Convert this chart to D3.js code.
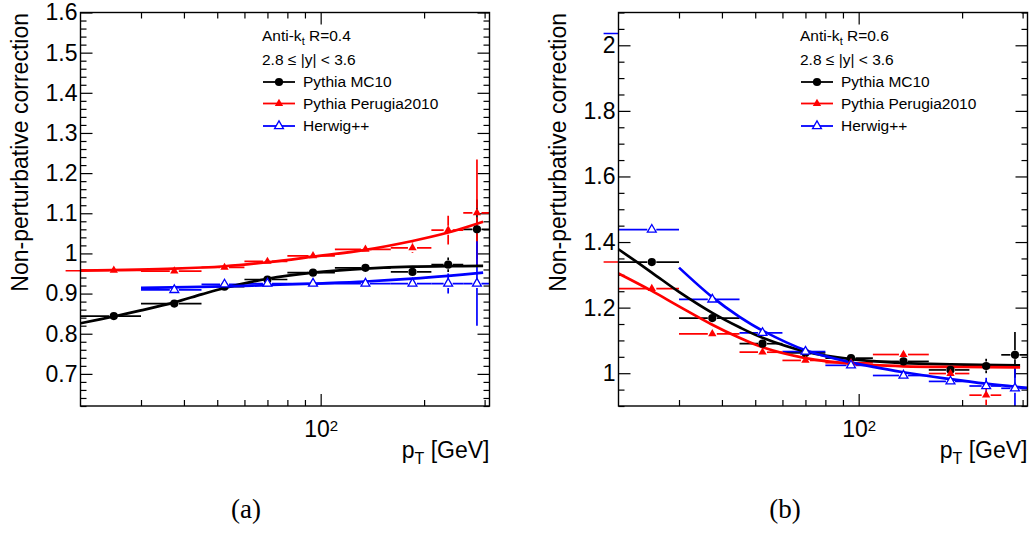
<!DOCTYPE html>
<html><head><meta charset="utf-8">
<script src="https://cdn.jsdelivr.net/npm/d3@7"></script>
<style>
body{margin:0;background:#fff;}
svg{display:block;font-family:"Liberation Sans",Arial,Helvetica,sans-serif;}
</style>
</head><body>
<svg id="c" width="1033" height="533"></svg>
<script>
// ---------------- data ----------------
const ptEdges   = [20,30,45,60,80,110,160,210,260,310];
const ptCenters = [25,37.5,52.5,70,95,135,185,235,285];
const underflowBin = [18.1,20];

// (a) anti-kt R=0.4
const a_mc10        = [0.844,0.875,0.917,0.935,0.952,0.964,0.954,0.972,1.060];
const a_mc10_err    = [0.003,0.003,0.004,0.005,0.006,0.008,0.010,0.018,0.074];
const a_perugia     = [0.958,0.956,0.965,0.980,0.994,1.010,1.014,1.058,1.101];
const a_perugia_err = [0.004,0.005,0.007,0.010,0.010,0.008,0.013,0.036,0.133];
const a_herwig      = [null,0.909,0.923,0.925,0.925,0.925,0.925,0.925,0.925];
const a_herwig_err  = [0,0.004,0.006,0.005,0.005,0.005,0.006,0.025,0.105];
const a_fit_mc10    = [[20,0.826],[25,0.843],[30,0.858],[37.5,0.878],[45,0.898],[52.5,0.914],[70,0.937],[95,0.952],[135,0.962],[185,0.967],[235,0.968],[297,0.969]];
const a_fit_perugia = [[20,0.957],[37.5,0.962],[52.5,0.968],[70,0.978],[95,0.992],[135,1.009],[185,1.031],[235,1.052],[297,1.079]];
const a_fit_herwig  = [[30,0.914],[52.5,0.918],[70,0.921],[95,0.925],[135,0.930],[185,0.937],[235,0.944],[297,0.952]];
const a_under       = {perugia:0.957};

// (b) anti-kt R=0.6
const b_mc10        = [1.339,1.168,1.090,1.062,1.046,1.036,1.010,1.022,1.056];
const b_mc10_err    = [0.004,0.005,0.006,0.006,0.007,0.008,0.010,0.022,0.070];
const b_perugia     = [1.258,1.120,1.064,1.039,1.032,1.057,0.999,0.933,null];
const b_perugia_err = [0.004,0.005,0.006,0.006,0.007,0.010,0.012,0.030,0];
const b_herwig      = [1.438,1.225,1.123,1.066,1.024,0.993,0.975,0.961,0.954];
const b_herwig_err  = [0.004,0.006,0.007,0.008,0.008,0.010,0.012,0.025,0.060];
const b_fit_mc10    = [[20,1.378],[25,1.307],[30,1.248],[37.5,1.184],[45,1.140],[52.5,1.108],[70,1.066],[95,1.043],[135,1.031],[185,1.027],[295,1.024]];
const b_fit_perugia = [[20,1.304],[25,1.251],[30,1.204],[37.5,1.148],[45,1.108],[52.5,1.079],[70,1.046],[95,1.029],[135,1.021],[200,1.019],[295,1.018]];
const b_fit_herwig  = [[30,1.322],[37.5,1.232],[45,1.172],[52.5,1.130],[70,1.070],[95,1.033],[135,1.003],[185,0.982],[235,0.968],[310,0.955]];
const b_under       = {perugia:1.339, herwig:2.036};

const yMajorA = [0.7,0.8,0.9,1.0,1.1,1.2,1.3,1.4,1.5,1.6];
const yMajorB = [1.0,1.2,1.4,1.6,1.8,2.0];
const xMajor  = [100];
const xMinor  = [30,40,50,60,70,80,90,200,300];
const legendLabels = ["Pythia MC10","Pythia Perugia2010","Herwig++"];
const captions = ["(a)","(b)"];

// ---------------- drawing ----------------
const svg = d3.select("#c");
const COL = {mc10:"#000000", perugia:"#ff0000", herwig:"#0000ff"};

function marker(sel, kind, color){
  if(kind==="circle"){
    sel.append("circle").attr("r",4.1).attr("fill",color);
  } else if(kind==="tri"){
    sel.append("path").attr("d",d3.symbol(d3.symbolTriangle,30)()).attr("fill",color);
  } else {
    sel.append("path").attr("d",d3.symbol(d3.symbolTriangle,34)()).attr("fill","#fff")
      .attr("stroke",color).attr("stroke-width",1.3);
  }
}

function drawPanel(p, idx){
  const g = svg.append("g").attr("transform",`translate(${p.ox},0)`);
  const X0=80.5, X1=489.5, Y0=12.5, Y1=406;
  const x = d3.scaleLog().domain([20,310]).range([X0,X1]);
  const y = d3.scaleLinear().domain(p.yDomain).range([Y1,Y0]);
  const clipId = "clip"+idx;
  g.append("clipPath").attr("id",clipId).append("rect")
    .attr("x",X0-16).attr("y",Y0).attr("width",X1-X0+16).attr("height",Y1-Y0);

  const styleAxis = a => { a.select(".domain").remove(); a.selectAll("line").attr("stroke","#000").attr("stroke-width",1.2); };
  const yMinor = d3.range(Math.round(p.yDomain[0]/p.yMinorStep), Math.round(p.yDomain[1]/p.yMinorStep)+1)
                   .map(k=>+(k*p.yMinorStep).toFixed(3)).filter(v=>!p.yMajor.some(m=>Math.abs(m-v)<1e-6));
  const bx = g.append("g").attr("transform",`translate(0,${Y1})`)
    .call(d3.axisBottom(x).tickValues(xMajor).tickSize(-12).tickPadding(15).tickFormat(()=>"10"));
  bx.selectAll("text").attr("font-size",23).attr("fill","#000").attr("font-family","Liberation Sans, Arial, sans-serif")
    .append("tspan").attr("dy","-0.45em").attr("font-size",15).text("2");
  styleAxis(bx);
  styleAxis(g.append("g").attr("transform",`translate(0,${Y1})`).call(d3.axisBottom(x).tickValues(xMinor).tickSize(-6).tickFormat("")));
  styleAxis(g.append("g").attr("transform",`translate(0,${Y0})`).call(d3.axisTop(x).tickValues(xMajor).tickSize(-12).tickFormat("")));
  styleAxis(g.append("g").attr("transform",`translate(0,${Y0})`).call(d3.axisTop(x).tickValues(xMinor).tickSize(-6).tickFormat("")));
  const ly = g.append("g").attr("transform",`translate(${X0},0)`)
    .call(d3.axisLeft(y).tickValues(p.yMajor).tickSize(-12).tickPadding(3).tickFormat(d=>String(+d.toFixed(2))));
  ly.selectAll("text").attr("font-size",23).attr("fill","#000").attr("font-family","Liberation Sans, Arial, sans-serif");
  styleAxis(ly);
  styleAxis(g.append("g").attr("transform",`translate(${X0},0)`).call(d3.axisLeft(y).tickValues(yMinor).tickSize(-6).tickFormat("")));
  styleAxis(g.append("g").attr("transform",`translate(${X1},0)`).call(d3.axisRight(y).tickValues(p.yMajor).tickSize(-12).tickFormat("")));
  styleAxis(g.append("g").attr("transform",`translate(${X1},0)`).call(d3.axisRight(y).tickValues(yMinor).tickSize(-6).tickFormat("")));

  const dl = g.append("g").attr("clip-path",`url(#${clipId})`);
  const gap = 4.5;
  Object.entries(p.under).forEach(([k,v])=>{
    dl.append("line").attr("x1",x(underflowBin[0])).attr("x2",x(underflowBin[1]))
      .attr("y1",y(v)).attr("y2",y(v)).attr("stroke",COL[k]).attr("stroke-width",1.6);
  });
  p.series.forEach(s=>{
    s.vals.forEach((v,i)=>{
      if(v==null) return;
      const cx=x(ptCenters[i]), cy=y(v), xl=x(ptEdges[i]), xr=x(ptEdges[i+1]);
      const eg = dl.append("g").attr("stroke",s.color).attr("stroke-width",1.7);
      eg.append("line").attr("x1",xl).attr("x2",cx-gap).attr("y1",cy).attr("y2",cy);
      eg.append("line").attr("x1",cx+gap).attr("x2",xr).attr("y1",cy).attr("y2",cy);
      const et=y(v+s.errs[i]), eb=y(v-s.errs[i]);
      if(cy-et>gap) eg.append("line").attr("x1",cx).attr("x2",cx).attr("y1",et).attr("y2",cy-gap);
      if(eb-cy>gap) eg.append("line").attr("x1",cx).attr("x2",cx).attr("y1",cy+gap).attr("y2",eb);
    });
  });
  const line = d3.line().x(d=>x(d[0])).y(d=>y(d[1])).curve(d3.curveCatmullRom.alpha(0.5));
  p.series.forEach(s=>{
    dl.append("path").attr("d",line(s.fit)).attr("fill","none").attr("stroke",s.color).attr("stroke-width",2.7);
  });
  p.series.forEach(s=>{
    s.vals.forEach((v,i)=>{
      if(v==null) return;
      const m = dl.append("g").attr("transform",`translate(${x(ptCenters[i])},${y(v)})`);
      marker(m,s.marker,s.color);
    });
  });
  g.append("rect").attr("x",X0).attr("y",Y0).attr("width",X1-X0).attr("height",Y1-Y0)
    .attr("fill","none").attr("stroke","#000").attr("stroke-width",1.4);

  g.append("text").attr("transform",`translate(28,13) rotate(-90)`).attr("text-anchor","end")
    .attr("font-size",23).text("Non-perturbative correction");
  const xt = g.append("text").attr("x",X1).attr("y",458).attr("text-anchor","end").attr("font-size",23);
  xt.append("tspan").text("p");
  xt.append("tspan").attr("dy",6).attr("font-size",16).text("T");
  xt.append("tspan").attr("dy",-6).text(" [GeV]");

  const lt = g.append("text").attr("x",262).attr("y",41).attr("font-size",15.5);
  lt.append("tspan").text("Anti-k");
  lt.append("tspan").attr("dy",4).attr("font-size",11).text("t");
  lt.append("tspan").attr("dy",-4).text(" "+p.jet);
  g.append("text").attr("x",262).attr("y",65).attr("font-size",15.5).text("2.8 \u2264 |y| < 3.6");
  const rowsY=[82,103.5,126];
  p.series.forEach((s,i)=>{
    const ry=rowsY[i];
    g.append("line").attr("x1",263).attr("x2",295).attr("y1",ry).attr("y2",ry).attr("stroke",s.color).attr("stroke-width",1.8);
    marker(g.append("g").attr("transform",`translate(279,${ry})`),s.marker,s.color);
    g.append("text").attr("x",303).attr("y",ry+5.2).attr("font-size",15.5).text(legendLabels[i]);
  });

  svg.append("text").attr("x",p.capX).attr("y",518).attr("text-anchor","middle")
    .attr("font-family","Liberation Serif, DejaVu Serif, serif").attr("font-size",27).text(captions[idx]);
}

const panels = [
  {ox:0, capX:246, jet:"R=0.4", yDomain:[0.62,1.6], yMajor:yMajorA, yMinorStep:0.02, under:{perugia:a_under.perugia},
   series:[
    {color:COL.mc10, marker:"circle", vals:a_mc10, errs:a_mc10_err, fit:a_fit_mc10},
    {color:COL.perugia, marker:"tri", vals:a_perugia, errs:a_perugia_err, fit:a_fit_perugia},
    {color:COL.herwig, marker:"open", vals:a_herwig, errs:a_herwig_err, fit:a_fit_herwig}]},
  {ox:538, capX:785, jet:"R=0.6", yDomain:[0.9,2.1], yMajor:yMajorB, yMinorStep:0.05, under:{perugia:b_under.perugia, herwig:b_under.herwig},
   series:[
    {color:COL.mc10, marker:"circle", vals:b_mc10, errs:b_mc10_err, fit:b_fit_mc10},
    {color:COL.perugia, marker:"tri", vals:b_perugia, errs:b_perugia_err, fit:b_fit_perugia},
    {color:COL.herwig, marker:"open", vals:b_herwig, errs:b_herwig_err, fit:b_fit_herwig}]}
];
panels.forEach((p,i)=>drawPanel(p,i));
</script>
</body></html>
